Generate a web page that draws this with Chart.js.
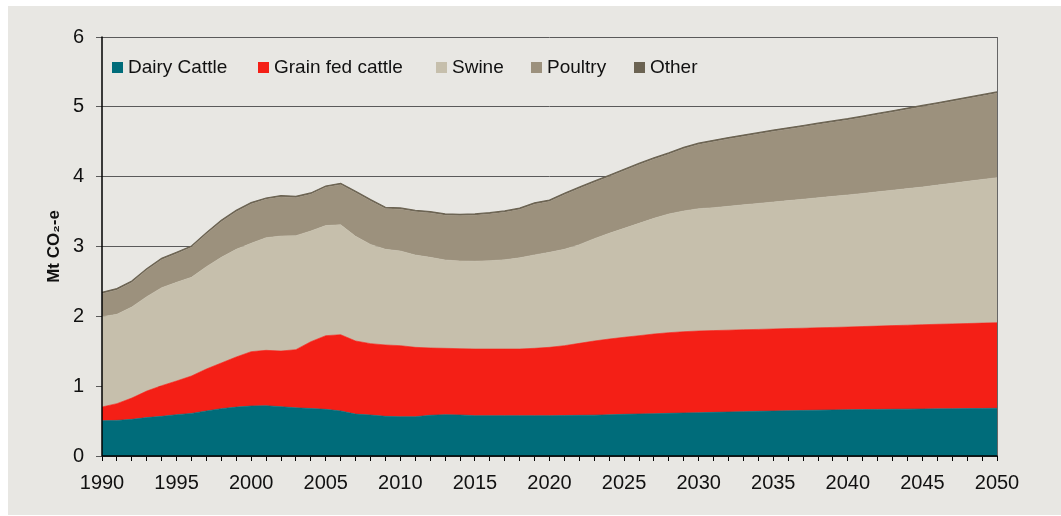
<!DOCTYPE html>
<html><head><meta charset="utf-8">
<script src="https://cdn.jsdelivr.net/npm/chart.js@4.4.1/dist/chart.umd.min.js"></script>
<style>
html,body{margin:0;padding:0;background:#fff;}
#wrap{position:absolute;left:8px;top:6px;width:1053px;height:509px;background:#e8e7e3;}
#c{position:absolute;left:0;top:0;}
#legend{position:absolute;left:0;top:50px;width:1000px;height:22px;font-family:"Liberation Sans",Arial,sans-serif;font-size:19px;color:#111;line-height:22px;}
.item{position:absolute;top:0;display:flex;align-items:center;white-space:nowrap;}
.box{width:11px;height:11px;margin-right:5px;}
</style></head><body>
<div id="wrap"><canvas id="c" width="1053" height="509"></canvas><div id="legend"></div></div>
<script>
const years = [];
for (let y = 1990; y <= 2050; y++) years.push(String(y));

const seriesNames = ["Dairy Cattle", "Grain fed cattle", "Swine", "Poultry", "Other"];

const dairy = [
  0.505,0.51,0.525,0.55,0.568,0.592,0.61,0.645,0.678,0.70,
  0.716,0.72,0.706,0.69,0.68,0.668,0.645,0.60,0.587,0.568,
  0.563,0.563,0.583,0.592,0.587,0.578,0.578,0.578,0.578,0.578,
  0.578,0.58,0.582,0.585,0.59,0.597,0.602,0.606,0.611,0.616,
  0.62,0.625,0.63,0.635,0.64,0.644,0.648,0.652,0.656,0.66,
  0.663,0.665,0.667,0.669,0.671,0.673,0.675,0.677,0.679,0.681,
  0.683];
const grainFed = [
  0.197,0.24,0.305,0.38,0.439,0.482,0.536,0.601,0.654,0.718,
  0.778,0.793,0.797,0.833,0.957,1.055,1.092,1.047,1.022,1.022,
  1.017,0.993,0.964,0.95,0.95,0.954,0.954,0.954,0.954,0.964,
  0.978,1.0,1.031,1.062,1.085,1.103,1.121,1.141,1.155,1.164,
  1.17,1.171,1.172,1.173,1.173,1.175,1.177,1.178,1.18,1.181,
  1.184,1.189,1.193,1.198,1.202,1.207,1.211,1.215,1.218,1.222,
  1.226];
const swine = [
  1.293,1.279,1.304,1.352,1.403,1.413,1.413,1.465,1.513,1.542,
  1.552,1.613,1.647,1.632,1.585,1.577,1.575,1.499,1.421,1.37,
  1.356,1.322,1.298,1.265,1.256,1.258,1.265,1.278,1.306,1.338,
  1.361,1.38,1.413,1.465,1.514,1.56,1.609,1.657,1.70,1.729,
  1.752,1.76,1.774,1.789,1.804,1.818,1.832,1.847,1.862,1.877,
  1.891,1.906,1.923,1.939,1.956,1.972,1.993,2.014,2.036,2.056,
  2.077];
const poultry = [
  0.329,0.348,0.352,0.381,0.401,0.41,0.429,0.468,0.51,0.539,
  0.563,0.549,0.559,0.544,0.525,0.547,0.573,0.625,0.622,0.582,
  0.596,0.621,0.635,0.639,0.648,0.656,0.668,0.68,0.692,0.725,
  0.728,0.782,0.804,0.804,0.811,0.826,0.838,0.846,0.854,0.891,
  0.918,0.944,0.964,0.978,0.993,1.01,1.023,1.036,1.048,1.06,
  1.072,1.088,1.103,1.118,1.133,1.148,1.159,1.171,1.183,1.195,
  1.207];
const other = [
  0.02,0.02,0.02,0.02,0.02,0.02,0.02,0.02,0.02,0.02,
  0.02,0.02,0.02,0.02,0.02,0.02,0.02,0.02,0.02,0.02,
  0.02,0.02,0.02,0.02,0.02,0.02,0.02,0.02,0.02,0.02,
  0.02,0.02,0.02,0.02,0.02,0.02,0.02,0.02,0.02,0.02,
  0.02,0.02,0.02,0.02,0.02,0.02,0.02,0.02,0.02,0.02,
  0.02,0.02,0.02,0.02,0.02,0.02,0.02,0.02,0.02,0.02,
  0.02];

const colors = ["#006c7a", "#f41f16", "#c6bfac", "#9c917d", "#6b6352"];
const seriesData = [dairy, grainFed, swine, poultry, other];

const datasets = seriesData.map((d, i) => ({
  label: seriesNames[i],
  data: d,
  backgroundColor: colors[i],
  borderColor: colors[i],
  borderWidth: i === 4 ? 1.2 : 0.6,
  fill: i === 0 ? 'origin' : '-1',
  pointRadius: 0,
  tension: 0
}));

const frame = {
  id: 'frame',
  afterDatasetsDraw(chart) {
    const { ctx, chartArea: a } = chart;
    ctx.save();
    ctx.lineWidth = 1;
    ctx.strokeStyle = '#666';
    const r = Math.round(a.right) + 0.5;
    ctx.beginPath(); ctx.moveTo(r, a.top); ctx.lineTo(r, a.bottom); ctx.stroke();
    ctx.strokeStyle = '#000';
    ctx.lineWidth = 1.5;
    const l = Math.round(a.left);
    ctx.beginPath(); ctx.moveTo(l, a.top - 0.5); ctx.lineTo(l, a.bottom + 0.5); ctx.stroke();
    const b = Math.round(a.bottom);
    ctx.beginPath(); ctx.moveTo(a.left, b); ctx.lineTo(a.right + 0.5, b); ctx.stroke();
    ctx.restore();
  }
};

const font = "'Liberation Sans', Arial, sans-serif";
const chart = new Chart(document.getElementById('c'), {
  type: 'line',
  data: { labels: years, datasets },
  options: {
    responsive: false,
    animation: false,
    layout: { padding: { left: 32, top: 31, right: 64, bottom: 0 } },
    plugins: { legend: { display: false }, tooltip: { enabled: false } },
    scales: {
      x: {
        offset: false,
        grid: { drawOnChartArea: false, drawTicks: true, tickLength: 5, color: '#000', lineWidth: 1 },
        border: { display: false },
        ticks: {
          autoSkip: false, maxRotation: 0, minRotation: 0, padding: 10,
          color: '#111', font: { family: font, size: 20 },
          callback: function (v, i) { const y = years[i]; return Number(y) % 5 === 0 ? y : ''; }
        },
        afterFit(scale) { scale.height = 59; }
      },
      y: {
        stacked: true,
        min: 0, max: 6,
        grid: { color: '#5a5a5a', lineWidth: 1, tickLength: 6, drawTicks: true },
        border: { display: false },
        ticks: { stepSize: 1, padding: 12, color: '#111', font: { family: font, size: 20 } },
        title: { display: true, text: 'Mt CO₂-e', color: '#111', font: { family: font, size: 17, weight: 'bold' } },
        afterFit(scale) { scale.width = 62; }
      }
    }
  },
  plugins: [frame]
});

// legend item left edges (in panel pixels)
const legendLeft = [104, 250, 428, 523, 626];
const leg = document.getElementById('legend');
seriesNames.forEach((n, i) => {
  const it = document.createElement('div'); it.className = 'item'; it.style.left = legendLeft[i] + 'px';
  const b = document.createElement('span'); b.className = 'box'; b.style.background = colors[i];
  const t = document.createElement('span'); t.textContent = n;
  it.appendChild(b); it.appendChild(t); leg.appendChild(it);
});
</script>
</body></html>
